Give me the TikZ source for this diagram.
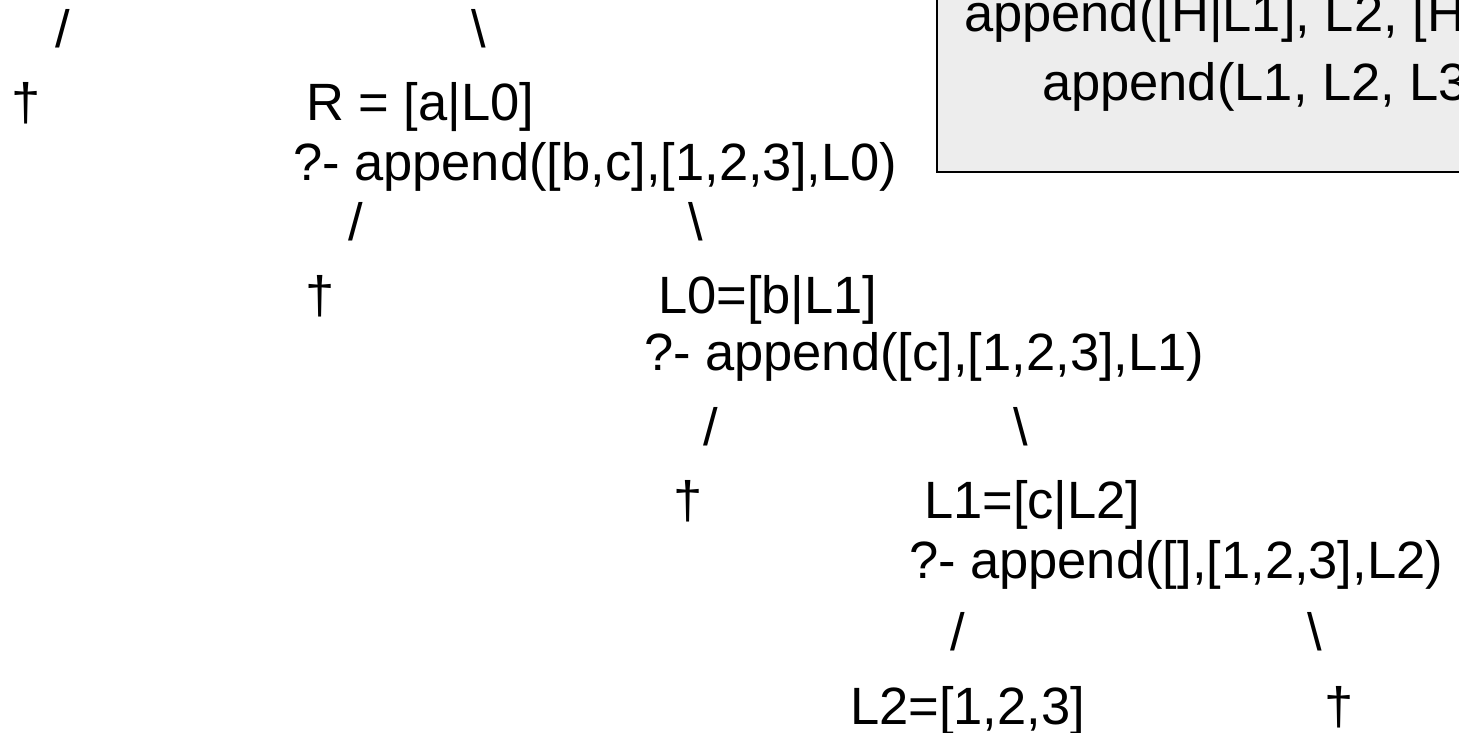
\documentclass[tikz,border=0pt]{standalone}
\usepackage{fontspec}
\setmainfont{Liberation Sans}
\definecolor{boxfill}{RGB}{237,237,237}
\tikzset{
  txt/.style={anchor=base west, inner sep=0pt, outer sep=0pt, font=\fontsize{52.5}{60}\selectfont},
  rulebox/.style={draw=black, line width=2.5pt, fill=boxfill}
}
\begin{document}
\begin{tikzpicture}[x=1pt,y=-1pt]
\useasboundingbox (0,0) rectangle (1459,733);
\clip (0,0) rectangle (1459,733);
% rule box (cut off at top and right)
\draw[rulebox] (937,-30) rectangle (1500,172);
\node[txt] (r1) at (964,32) {append([H|L1], L2, [H};
\node[txt] (r2) at (1042,101) {append(L1, L2, L3};
% row 1
\node[txt] (s1l) at (55,48) {/};
\node[txt] (s1r) at (471,48) {\textbackslash};
% row 2
\node[txt] (d1) at (11,121) {†};
\node[txt] (n1) at (306,121) {R = [a|L0]};
\node[txt] (q1) at (293,180) {?- append([b,c],[1,2,3],L0)};
% row 4
\node[txt] (s2l) at (348,240) {/};
\node[txt] (s2r) at (688,240) {\textbackslash};
\node[txt] (d2) at (305,313) {†};
\node[txt] (n2) at (658,313) {L0=[b|L1]};
\node[txt] (q2) at (644,370) {?- append([c],[1,2,3],L1)};
% row 7
\node[txt] (s3l) at (703,445) {/};
\node[txt] (s3r) at (1013,445) {\textbackslash};
\node[txt] (d3) at (673,518) {†};
\node[txt] (n3) at (924,518) {L1=[c|L2]};
\node[txt] (q3) at (909,578) {?- append([],[1,2,3],L2)};
% row 10
\node[txt] (s4l) at (950,650) {/};
\node[txt] (s4r) at (1307,650) {\textbackslash};
\node[txt] (n4) at (850,724) {L2=[1,2,3]};
\node[txt] (d4) at (1324,724) {†};
\end{tikzpicture}
\end{document}
